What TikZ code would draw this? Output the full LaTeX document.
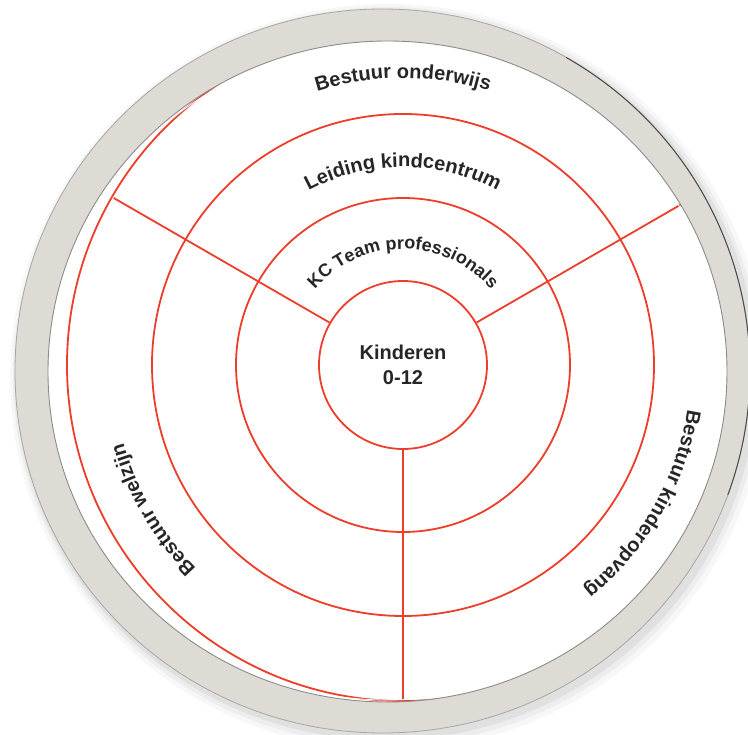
\documentclass[tikz,border=0pt]{standalone}
\usepackage{fontspec}
\setmainfont{Liberation Sans}
\usetikzlibrary{decorations.text}
\definecolor{ringred}{RGB}{236,62,42}
\definecolor{ringgray}{RGB}{221,219,212}
\definecolor{txt}{RGB}{38,38,38}
\newcommand\lblA{\bfseries\fontsize{20bp}{24bp}\selectfont}
\newcommand\lblB{\bfseries\fontsize{18bp}{22bp}\selectfont}
\begin{document}
\begin{tikzpicture}[x=1bp,y=1bp,
  redline/.style={draw=ringred, line width=1.8bp},
  arclabel/.style={decorate, decoration={text along path, text align=center, text color=txt, text={#1}}}]
\useasboundingbox[fill=white] (-403,-370) rectangle (345,365);
% soft shadow of the frame
\fill[black, opacity=0.03] (-15,-12) ellipse [x radius=378, y radius=373];
\fill[black, opacity=0.04] (-16,-11) ellipse [x radius=374, y radius=369];
\fill[black, opacity=0.05] (-17,-10) ellipse [x radius=371, y radius=365];
% white face
\fill[white] (-15.5,-6.5) ellipse [x radius=339.5, y radius=330.5];
% red rings
\draw[redline] (0,0) circle[radius=336];
\draw[redline] (0,0) circle[radius=251];
\draw[redline] (0,0) circle[radius=167];
\node[circle, redline, minimum size=168bp, inner sep=0pt, align=center, text=txt,
      font=\bfseries\fontsize{20bp}{25bp}\selectfont] (kid) at (0,0) {Kinderen\\0-12};
\coordinate (ul) at (150:334);
\coordinate (ur) at (30:330);
\coordinate (bt) at (270:336);
\draw[redline] (kid.150) -- (ul);
\draw[redline] (kid.30) -- (ur);
\draw[redline] (kid.270) -- (bt);
% frame ring
\fill[ringgray, even odd rule] (-20.5,-6) ellipse [x radius=367.5, y radius=362]
      (-15.5,-6.5) ellipse [x radius=339.5, y radius=330.5];
\draw[black!45, line width=0.9bp] (-15.5,-6.5) ellipse [x radius=339.5, y radius=330.5];
\draw[white, line width=0.8bp] (-15.5,-6.5) ellipse [x radius=337.5, y radius=328.5];
\draw[black!35, line width=0.8bp] (-20.5,-6) ellipse [x radius=367.5, y radius=362];
\draw[black!70, line width=1bp] (-20.5,-6) ++(60:367.5 and 362) arc[start angle=60, end angle=-20, x radius=367.5, y radius=362];
% labels
\path[arclabel={|\lblA|Bestuur onderwijs}] (130:287) arc[start angle=130, end angle=50, radius=287];
\path[arclabel={|\lblA|Leiding kindcentrum}] (140:198) arc[start angle=140, end angle=40, radius=198];
\path[arclabel={|\lblB|KC Team professionals}] (170:116) arc[start angle=170, end angle=10, radius=116];
\path[arclabel={|\lblA|Bestuur kinderopvang}] (0:288) arc[start angle=0, end angle=-60, radius=288];
\path[arclabel={|\lblA|Bestuur welzijn}] (240:290) arc[start angle=240, end angle=180, radius=290];
\end{tikzpicture}
\end{document}
